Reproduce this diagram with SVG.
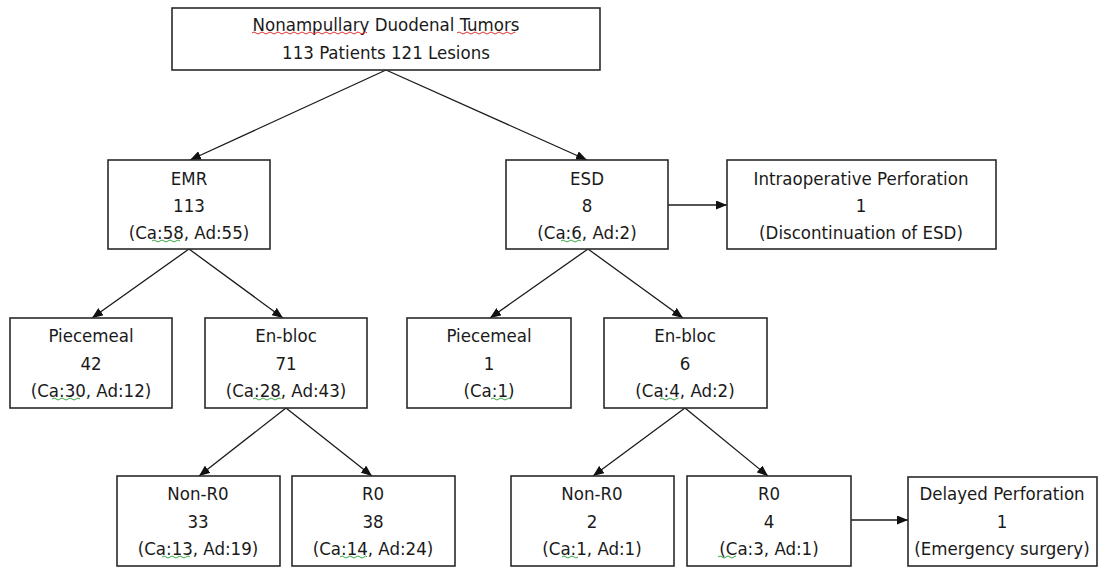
<svg xmlns="http://www.w3.org/2000/svg" width="1099" height="567" viewBox="0 0 1099 567">
<defs>
<marker id="arr" markerUnits="userSpaceOnUse" markerWidth="11" markerHeight="9" refX="11" refY="4.5" orient="auto">
<path d="M0,0 L11,4.5 L0,9 z" fill="#111"/>
</marker>
<style>
.box{fill:#fff;stroke:#2a2a2a;stroke-width:1.6}
.t{font-family:"DejaVu Sans Condensed","DejaVu Sans",sans-serif;font-stretch:condensed;font-size:18.5px;fill:#1a1a1a;text-anchor:middle}
.c{stroke:#1a1a1a;stroke-width:1.3;fill:none;marker-end:url(#arr)}
.wr{stroke:#e03030;stroke-width:1;fill:none}
.wg{stroke:#3aa845;stroke-width:1;fill:none}
</style>
</defs>
<rect width="1099" height="567" fill="#fff"/>
<g id="connectors">
<line class="c" x1="386" y1="70" x2="190" y2="160"/>
<line class="c" x1="386" y1="70" x2="587" y2="160"/>
<line class="c" x1="189" y1="249" x2="92" y2="318"/>
<line class="c" x1="189" y1="249" x2="283" y2="318"/>
<line class="c" x1="588" y1="249" x2="490" y2="318"/>
<line class="c" x1="588" y1="249" x2="683" y2="318"/>
<line class="c" x1="668" y1="205" x2="727" y2="205"/>
<line class="c" x1="286" y1="408" x2="199" y2="476"/>
<line class="c" x1="286" y1="408" x2="372" y2="476"/>
<line class="c" x1="685" y1="408" x2="593" y2="476"/>
<line class="c" x1="685" y1="408" x2="768" y2="476"/>
<line class="c" x1="851" y1="520" x2="908" y2="520"/>
</g>
<g id="n_top">
<rect class="box" x="172" y="8" width="428" height="62"/>
<text class="t" x="386" y="31">Nonampullary Duodenal Tumors</text>
<text class="t" x="386" y="59">113 Patients 121 Lesions</text>
<path class="wr" d="M252,33 q2,-2 4,0 t4,0 t4,0 t4,0 t4,0 t4,0 t4,0 t4,0 t4,0 t4,0 t4,0 t4,0 t4,0 t4,0 t4,0 t4,0 t4,0 t4,0 t4,0 t4,0 t4,0 t4,0 t4,0 t4,0 t4,0 t4,0 t4,0 t4,0 t3,0"/>
<path class="wr" d="M457,33 q2,-2 4,0 t4,0 t4,0 t4,0 t4,0 t4,0 t4,0 t4,0 t4,0 t4,0 t4,0 t4,0 t4,0 t4,0 t2,0"/>
</g>
<g id="n_emr">
<rect class="box" x="108" y="160" width="162" height="89"/>
<text class="t" x="189" y="185">EMR</text>
<text class="t" x="189" y="212">113</text>
<text class="t" x="189" y="239">(Ca:58, Ad:55)</text>
<path class="wg" d="M152,241 q2,-2 4,0 t4,0 t4,0 t4,0 t4,0 t4,0 t4,0"/>
</g>
<g id="n_esd">
<rect class="box" x="506" y="160" width="162" height="89"/>
<text class="t" x="587" y="185">ESD</text>
<text class="t" x="587" y="212">8</text>
<text class="t" x="587" y="239">(Ca:6, Ad:2)</text>
<path class="wg" d="M561,241 q2,-2 4,0 t4,0 t4,0 t4,0 t4,0"/>
</g>
<g id="n_intraop">
<rect class="box" x="727" y="160" width="269" height="89"/>
<text class="t" x="861" y="185">Intraoperative Perforation</text>
<text class="t" x="861" y="212">1</text>
<text class="t" x="861" y="239">(Discontinuation of ESD)</text>
</g>
<g id="n_piece_l">
<rect class="box" x="10" y="318" width="162" height="90"/>
<text class="t" x="91" y="342">Piecemeal</text>
<text class="t" x="91" y="370">42</text>
<text class="t" x="91" y="397">(Ca:30, Ad:12)</text>
<path class="wg" d="M52,399 q2,-2 4,0 t4,0 t4,0 t4,0 t4,0 t4,0 t4,0"/>
</g>
<g id="n_enbloc_l">
<rect class="box" x="205" y="318" width="162" height="90"/>
<text class="t" x="286" y="342">En-bloc</text>
<text class="t" x="286" y="370">71</text>
<text class="t" x="286" y="397">(Ca:28, Ad:43)</text>
<path class="wg" d="M253,399 q2,-2 4,0 t4,0 t4,0 t4,0 t4,0 t4,0 t4,0"/>
</g>
<g id="n_piece_r">
<rect class="box" x="407" y="318" width="164" height="90"/>
<text class="t" x="489" y="342">Piecemeal</text>
<text class="t" x="489" y="370">1</text>
<text class="t" x="489" y="397">(Ca:1)</text>
<path class="wg" d="M491,399 q2,-2 4,0 t4,0 t4,0 t4,0 t4,0"/>
</g>
<g id="n_enbloc_r">
<rect class="box" x="604" y="318" width="163" height="90"/>
<text class="t" x="685" y="342">En-bloc</text>
<text class="t" x="685" y="370">6</text>
<text class="t" x="685" y="397">(Ca:4, Ad:2)</text>
<path class="wg" d="M660,399 q2,-2 4,0 t4,0 t4,0 t4,0 t2,0"/>
</g>
<g id="n_nonr0_l">
<rect class="box" x="117" y="476" width="163" height="90"/>
<text class="t" x="198" y="500">Non-R0</text>
<text class="t" x="198" y="528">33</text>
<text class="t" x="198" y="555">(Ca:13, Ad:19)</text>
<path class="wg" d="M162,557 q2,-2 4,0 t4,0 t4,0 t4,0 t4,0 t4,0 t4,0"/>
</g>
<g id="n_r0_l">
<rect class="box" x="292" y="476" width="163" height="90"/>
<text class="t" x="373" y="500">R0</text>
<text class="t" x="373" y="528">38</text>
<text class="t" x="373" y="555">(Ca:14, Ad:24)</text>
<path class="wg" d="M340,557 q2,-2 4,0 t4,0 t4,0 t4,0 t4,0 t4,0 t3,0"/>
</g>
<g id="n_nonr0_r">
<rect class="box" x="511" y="476" width="163" height="90"/>
<text class="t" x="592" y="500">Non-R0</text>
<text class="t" x="592" y="528">2</text>
<text class="t" x="592" y="555">(Ca:1, Ad:1)</text>
<path class="wg" d="M562,557 q2,-2 4,0 t4,0 t4,0 t4,0"/>
</g>
<g id="n_r0_r">
<rect class="box" x="687" y="476" width="164" height="90"/>
<text class="t" x="769" y="500">R0</text>
<text class="t" x="769" y="528">4</text>
<text class="t" x="769" y="555">(Ca:3, Ad:1)</text>
<path class="wg" d="M718,557 q2,-2 4,0 t4,0 t4,0 t4,0 t1,0"/>
</g>
<g id="n_delayed">
<rect class="box" x="908" y="477" width="189" height="89"/>
<text class="t" x="1002" y="500">Delayed Perforation</text>
<text class="t" x="1002" y="528">1</text>
<text class="t" x="1002" y="555">(Emergency surgery)</text>
</g>
</svg>
